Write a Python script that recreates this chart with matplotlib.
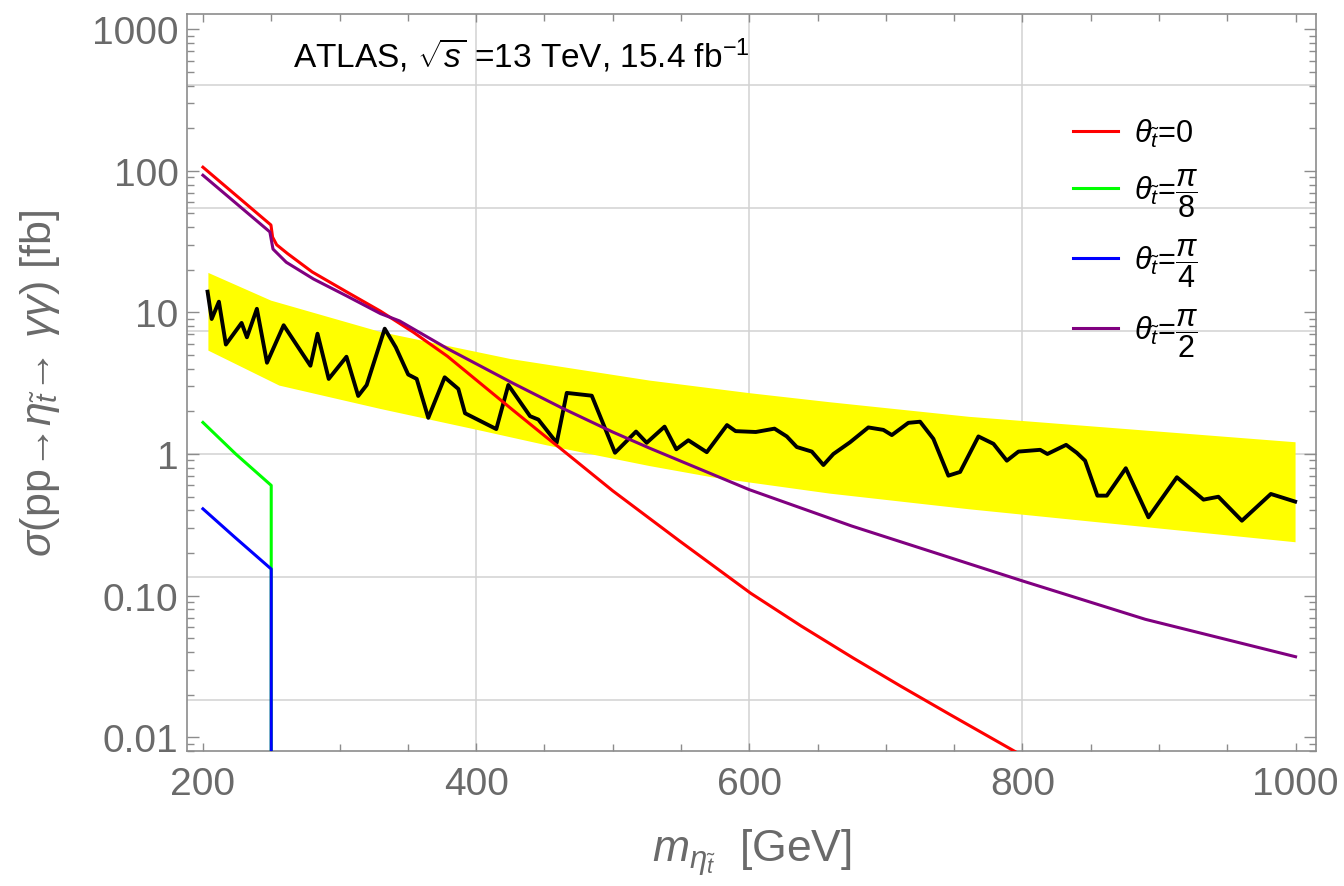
import numpy as np
import matplotlib
matplotlib.use("Agg")
import matplotlib.pyplot as plt
from matplotlib.ticker import FixedLocator, FixedFormatter, MultipleLocator, LogLocator, NullFormatter

plt.rcParams['font.family'] = ['Liberation Sans', 'DejaVu Sans']
plt.rcParams['mathtext.fontset'] = 'custom'
plt.rcParams['mathtext.rm'] = 'Liberation Sans'
plt.rcParams['mathtext.it'] = 'Liberation Sans:italic'
plt.rcParams['mathtext.bf'] = 'Liberation Sans:bold'

# theory curves, sigma(pp -> eta -> gamma gamma) in fb
m_red = [200, 249.8, 251, 254, 262, 280, 305, 330, 354, 379, 427, 452, 461, 500, 549, 601, 638, 676, 711, 747, 790, 800]
sig_red = [106, 41.4, 34, 30, 26, 19.3, 14.0, 10.2, 7.25, 4.9, 2.04, 1.30, 1.11, 0.55, 0.243, 0.104, 0.061, 0.0363, 0.0229, 0.01445, 0.0084, 0.0074]

m_green = [200, 224, 250, 250]
sig_green = [1.67, 1.0, 0.60, 1e-4]

m_blue = [200, 223, 250, 250]
sig_blue = [0.41, 0.26, 0.154, 1e-4]

m_purple = [200, 249, 251.3, 261, 281, 305, 330, 344, 379, 427, 463, 500, 527, 600, 675, 800, 890, 1000]
sig_purple = [93, 37, 28, 22.6, 17.2, 13.1, 9.8, 8.7, 5.55, 3.16, 2.11, 1.43, 1.10, 0.56, 0.31, 0.127, 0.068, 0.037]

# ATLAS expected band (upper / lower edge)
m_band_up = [204, 250, 330, 425, 527, 600, 659, 761, 1000]
band_up = [19.0, 12.1, 7.27, 4.69, 3.30, 2.69, 2.32, 1.83, 1.21]
m_band_lo = [204, 256, 330, 405, 452, 527, 573, 659, 761, 1000]
band_lo = [5.37, 3.04, 2.08, 1.45, 1.15, 0.822, 0.684, 0.525, 0.407, 0.238]

# ATLAS observed limit
m_obs = [203.4, 206.4, 211.7, 216.8, 228.3, 232.2, 239.5, 246.9, 259.1, 278.7,
         283.9, 292.1, 305.1, 313.7, 319.9, 333.1, 341.2, 350.3, 356.5, 365.0,
         377.0, 387.0, 391.9, 414.8, 423.6, 439.5, 445.6, 459.0, 466.4, 484.7,
         501.7, 517.1, 524.9, 538.0, 546.6, 555.4, 568.9, 583.7, 590.0, 604.8,
         618.5, 627.5, 634.8, 645.8, 654.3, 661.6, 673.8, 687.2, 698.2, 704.4,
         716.5, 725.1, 734.8, 745.8, 754.4, 767.8, 778.8, 788.6, 797.1, 813.0,
         818.3, 832.0, 839.8, 845.9, 854.9, 861.8, 875.7, 892.3, 913.1, 932.6,
         943.5, 960.7, 981.9, 999.7]
sig_obs = [14.0, 8.98, 11.9, 5.93, 8.42, 6.67, 10.6, 4.41, 8.11, 4.20,
           7.07, 3.39, 4.86, 2.57, 3.07, 7.67, 5.67, 3.64, 3.39, 1.80,
           3.48, 2.88, 1.94, 1.50, 3.07, 1.85, 1.75, 1.20, 2.70, 2.58,
           1.02, 1.44, 1.20, 1.56, 1.08, 1.25, 1.03, 1.60, 1.45, 1.43,
           1.51, 1.33, 1.12, 1.04, 0.836, 1.00, 1.21, 1.54, 1.48, 1.36,
           1.66, 1.69, 1.28, 0.703, 0.747, 1.33, 1.18, 0.897, 1.04, 1.07,
           1.00, 1.16, 1.02, 0.897, 0.508, 0.508, 0.793, 0.357, 0.685, 0.476,
           0.499, 0.338, 0.522, 0.461]

grid_x = [400, 600, 800]
grid_y = np.exp([-4, -2, 0, 2, 4, 6])
yticks = [0.01, 0.1, 1, 10, 100, 1000]
ytick_labels = ['0.01', '0.10', '1', '10', '100', '1000']
xticks = [200, 400, 600, 800, 1000]

gray = '#6a6a6a'
fig = plt.figure(figsize=(13.44, 8.87), dpi=100)
ax = fig.add_axes([0.1391, 0.1522, 0.8401, 0.8309])
ax.set_yscale('log')
ax.set_xlim(188.3, 1015)
ax.set_ylim(0.00799, 1280)

for g in grid_x:
    ax.axvline(g, color='#d2d2d2', lw=1.1, zorder=0)
for g in grid_y:
    ax.axhline(g, color='#d2d2d2', lw=1.1, zorder=0)

ax.fill(np.r_[m_band_up, m_band_lo[::-1]], np.r_[band_up, band_lo[::-1]],
        color='#ffff00', lw=0, zorder=1)
ax.plot(m_obs, sig_obs, color='black', lw=2.8, zorder=2)

l_red, = ax.plot(m_red, sig_red, color='#ff0000', lw=2.2, zorder=3)
l_green, = ax.plot(m_green, sig_green, color='#00ff00', lw=2.2, zorder=3)
l_blue, = ax.plot(m_blue, sig_blue, color='#0000ff', lw=2.2, zorder=4)
l_purple, = ax.plot(m_purple, sig_purple, color='#800080', lw=2.2, zorder=3)

ax.yaxis.set_major_locator(FixedLocator(yticks))
ax.yaxis.set_major_formatter(FixedFormatter(ytick_labels))
ax.yaxis.set_minor_locator(LogLocator(base=10, subs=range(2, 10), numticks=20))
ax.yaxis.set_minor_formatter(NullFormatter())
ax.xaxis.set_major_locator(FixedLocator(xticks))
ax.xaxis.set_minor_locator(MultipleLocator(50))

ax.tick_params(which='both', direction='in', top=True, right=True,
               color='#8c8c8c', labelcolor=gray, labelsize=28, width=1)
ax.tick_params(axis='y', which='major', length=8.5, pad=6)
ax.tick_params(axis='y', which='minor', length=5)
ax.tick_params(axis='x', which='major', length=6, pad=11)
ax.tick_params(axis='x', which='minor', length=5)
for s in ax.spines.values():
    s.set_color('#8c8c8c')
    s.set_linewidth(1.2)

ax.set_ylabel(r'$\sigma$(pp→$\eta_{\tilde{t}}$→ $\gamma\gamma$) [fb]',
              fontsize=31, color=gray)
ax.yaxis.set_label_coords(-0.111, 0.5)
ax.set_xlabel(r'$m_{\eta_{\tilde{t}}}$  [GeV]', fontsize=32, color=gray)
ax.xaxis.set_label_coords(0.5, -0.102)

ax.text(0.0939, 0.928, r'ATLAS, $\sqrt{s}$ =13 TeV, 15.4 fb$^{-1}$',
        transform=ax.transAxes, fontsize=24, color='black', va='baseline')

ax.legend([l_red, l_green, l_blue, l_purple],
          [r'$\theta_{\tilde{t}}$=0', r'$\theta_{\tilde{t}}$=$\dfrac{\pi}{8}$',
           r'$\theta_{\tilde{t}}$=$\dfrac{\pi}{4}$', r'$\theta_{\tilde{t}}$=$\dfrac{\pi}{2}$'],
          loc='upper left', bbox_to_anchor=(0.785, 0.8605), frameon=False,
          fontsize=22, handlelength=1.45, handletextpad=0.55, labelspacing=0.57,
          borderpad=0, borderaxespad=0)

fig.savefig('out.png', dpi=100)
